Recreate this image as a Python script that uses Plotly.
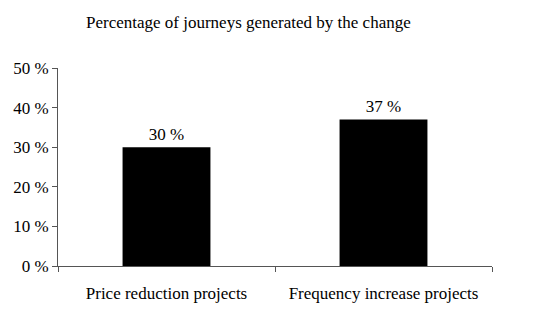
import plotly.graph_objects as go

categories = ["Price reduction projects", "Frequency increase projects"]
values = [30, 37]
labels = ["30 %", "37 %"]
tick_vals = [0, 10, 20, 30, 40, 50]
tick_text = ["0 %", "10 %", "20 %", "30 %", "40 %", "50 %"]

FAM = "Liberation Serif"
font = dict(family=FAM, size=17, color="black")

fig = go.Figure(go.Bar(
    x=categories, y=values, text=labels, textposition="outside",
    marker=dict(color="black", line=dict(width=0)),
    textfont=font, cliponaxis=False,
))
fig.update_layout(
    width=545, height=334,
    margin=dict(l=58, r=53, t=68, b=68),
    paper_bgcolor="white", plot_bgcolor="white",
    bargap=0.595, showlegend=False, font=font,
    annotations=[dict(text="Percentage of journeys generated by the change",
                      x=(248 - 58) / (545 - 58 - 53), xref="paper",
                      y=1 + (68 - 22) / (334 - 68 - 68), yref="paper", yanchor="middle",
                      showarrow=False, font=font)],
)
fig.update_xaxes(type="category", tickson="boundaries", ticks="outside", ticklen=5,
                 tickcolor="#555", showline=True, linecolor="#555", linewidth=1,
                 showgrid=False, tickfont=font, ticklabelstandoff=12)
fig.update_yaxes(range=[0, 50], tickvals=tick_vals, ticktext=tick_text,
                 ticks="outside", ticklen=5, tickcolor="#555", showline=True,
                 linecolor="#555", linewidth=1, showgrid=False, zeroline=False,
                 tickfont=font)
fig.write_html("out.html")
